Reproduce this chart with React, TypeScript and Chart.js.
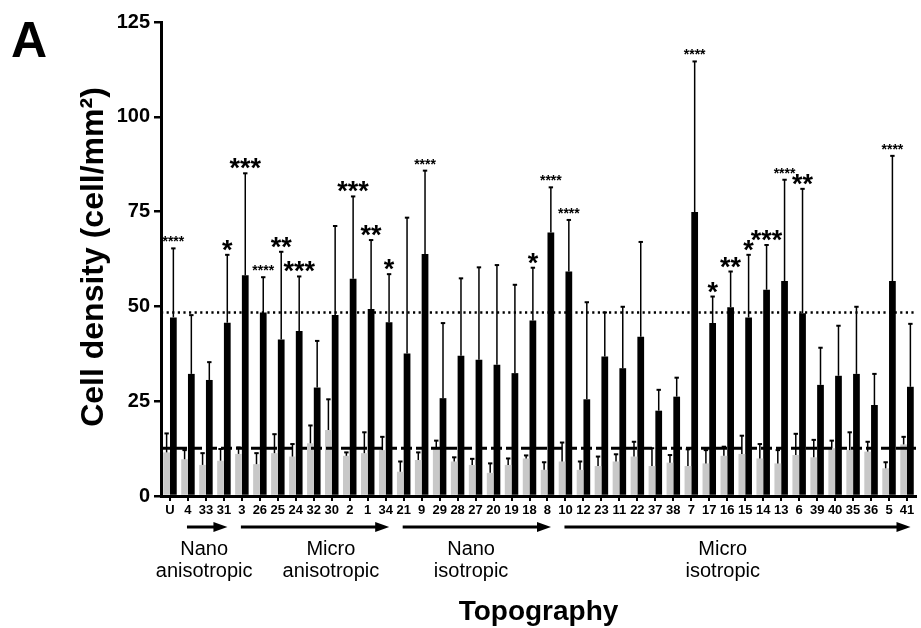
import React, { useEffect, useRef } from 'react';
import { Chart, registerables } from 'chart.js';

Chart.register(...registerables);

// ---- data ----
const categories = ['U', '4', '33', '31', '3', '26', '25', '24', '32', '30', '2', '1', '34', '21', '9', '29', '28', '27', '20', '19', '18', '8', '10', '12', '23', '11', '22', '37', '38', '7', '17', '16', '15', '14', '13', '6', '39', '40', '35', '36', '5', '41'];

// gray bars (control) mean and top of error bar
const controlMeans = [11.5, 9.7, 8.2, 9.3, 11.1, 8.4, 11.3, 10.4, 13.9, 17.4, 10.6, 11.3, 12.1, 6.4, 9.5, 12.6, 9.1, 8.2, 6.1, 8.2, 9.9, 6.9, 9.1, 6.9, 7.9, 9.1, 10.4, 7.9, 8.8, 7.9, 8.6, 10.6, 11.1, 9.9, 8.6, 10.8, 10.2, 12.6, 12.1, 11.7, 7.3, 13.6];
const controlErrTops = [16.5, 12.1, 11.3, 12.4, 12.8, 11.3, 16.3, 13.7, 18.6, 25.5, 11.5, 16.8, 15.6, 9.1, 11.5, 14.6, 10.2, 9.8, 8.6, 9.9, 10.7, 8.9, 14.1, 9.1, 10.4, 11.0, 14.3, 12.6, 10.8, 12.3, 12.1, 13.0, 15.9, 13.7, 12.1, 16.4, 14.8, 14.6, 16.8, 14.3, 8.9, 15.6];

// black bars (topography) mean and top of error bar
const topoMeans = [47.1, 32.2, 30.6, 45.7, 58.2, 48.4, 41.3, 43.5, 28.6, 47.7, 57.3, 49.3, 45.8, 37.6, 63.8, 25.8, 37.0, 35.9, 34.6, 32.4, 46.3, 69.5, 59.2, 25.5, 36.8, 33.7, 42.0, 22.5, 26.2, 74.9, 45.6, 49.8, 47.1, 54.4, 56.7, 48.2, 29.3, 31.7, 32.2, 24.0, 56.7, 28.8];
const topoErrTops = [65.3, 47.7, 35.3, 63.6, 85.1, 57.7, 64.4, 57.9, 40.9, 71.2, 79.0, 67.5, 58.5, 73.4, 85.8, 45.6, 57.4, 60.3, 60.9, 55.7, 60.2, 81.4, 72.8, 51.1, 48.4, 49.9, 67.0, 28.0, 31.2, 114.6, 52.6, 59.2, 63.6, 66.2, 83.4, 81.0, 39.1, 44.9, 49.9, 32.2, 89.7, 45.4];

const stars = ['****', '', '', '*', '***', '****', '**', '***', '', '', '***', '**', '*', '', '****', '', '', '', '', '', '*', '****', '****', '', '', '', '', '', '', '****', '*', '**', '*', '***', '****', '**', '', '', '', '', '****', ''];

const yTicks = [0, 25, 50, 75, 100, 125];
const meanLine = 48.4;     // dotted line
const controlLine = 12.6;  // dashed line

const groupNames = [['Nano', 'anisotropic'], ['Micro', 'anisotropic'], ['Nano', 'isotropic'], ['Micro', 'isotropic']];
const groupFirst = ['4', '3', '21', '10'];
const groupLast = ['31', '34', '8', '41'];
const groupLabelAt = [1.9, 8.95, 16.75, 30.75];

const FONT = '"Liberation Sans", Arial, Helvetica, sans-serif';
const NARROW = '"Liberation Sans Narrow", "Liberation Sans", Arial, sans-serif';

const overlayPlugin = {
  id: 'overlay',
  afterDatasetsDraw(chart: any) {
    const ctx = chart.ctx as CanvasRenderingContext2D;
    const { left, right } = chart.chartArea;
    const ys = chart.scales.y;
    ctx.save();
    ctx.strokeStyle = '#000';
    // dotted reference line
    ctx.lineWidth = 2.5;
    ctx.setLineDash([2.2, 3.4]);
    let yy = ys.getPixelForValue(meanLine);
    ctx.beginPath(); ctx.moveTo(left, yy); ctx.lineTo(right, yy); ctx.stroke();
    // dashed reference line
    ctx.lineWidth = 3;
    ctx.setLineDash([11, 4]);
    yy = ys.getPixelForValue(controlLine);
    ctx.beginPath(); ctx.moveTo(left, yy); ctx.lineTo(right, yy); ctx.stroke();
    ctx.setLineDash([]);

    // error bars
    [controlErrTops, topoErrTops].forEach((errs, di) => {
      const meta = chart.getDatasetMeta(di);
      meta.data.forEach((el: any, i: number) => {
        const yt = ys.getPixelForValue(errs[i]);
        ctx.lineWidth = 1.5;
        ctx.beginPath(); ctx.moveTo(el.x, el.y); ctx.lineTo(el.x, yt); ctx.stroke();
        ctx.lineWidth = 2;
        ctx.beginPath(); ctx.moveTo(el.x - 2.2, yt); ctx.lineTo(el.x + 2.2, yt); ctx.stroke();
      });
    });

    // significance stars
    const meta1 = chart.getDatasetMeta(1);
    ctx.fillStyle = '#000';
    ctx.textAlign = 'center';
    ctx.textBaseline = 'alphabetic';
    stars.forEach((s, i) => {
      if (!s) return;
      const el = meta1.data[i];
      const yt = ys.getPixelForValue(topoErrTops[i]);
      if (s.length === 4) {
        ctx.font = `bold 14px ${FONT}`;
        ctx.fillText(s, el.x, yt - 2);
      } else {
        ctx.font = `bold 27px ${FONT}`;
        ctx.fillText(s, el.x, yt + 4);
      }
    });
    ctx.restore();
  },
  afterDraw(chart: any) {
    const ctx = chart.ctx as CanvasRenderingContext2D;
    const xs = chart.scales.x;
    const { left, right } = chart.chartArea;
    ctx.save();
    ctx.fillStyle = '#000';
    ctx.strokeStyle = '#000';

    // panel letter
    ctx.font = `bold 50px ${FONT}`;
    ctx.textAlign = 'left';
    ctx.textBaseline = 'alphabetic';
    ctx.fillText('A', 11, 57);

    // y title
    ctx.save();
    ctx.translate(103, 257);
    ctx.rotate(-Math.PI / 2);
    ctx.font = `bold 32px ${FONT}`;
    ctx.textAlign = 'center';
    ctx.fillText('Cell density (cell/mm²)', 0, 0);
    ctx.restore();

    // x title
    ctx.font = `bold 28px ${FONT}`;
    ctx.textAlign = 'center';
    ctx.fillText('Topography', (left + right) / 2, 620);

    // group arrows and labels
    const ay = 527;
    groupNames.forEach((g, k) => {
      const x0 = xs.getPixelForValue(categories.indexOf(groupFirst[k])) - 1;
      const x1 = xs.getPixelForValue(categories.indexOf(groupLast[k])) + 3.5;
      ctx.lineWidth = 3;
      ctx.beginPath(); ctx.moveTo(x0, ay); ctx.lineTo(x1 - 10, ay); ctx.stroke();
      ctx.beginPath();
      ctx.moveTo(x1, ay);
      ctx.lineTo(x1 - 14, ay - 5);
      ctx.lineTo(x1 - 14, ay + 5);
      ctx.closePath();
      ctx.fill();
      const cx = xs.getPixelForValue(groupLabelAt[k]);
      ctx.font = `20px ${FONT}`;
      ctx.textAlign = 'center';
      ctx.fillText(g[0], cx, 555);
      ctx.fillText(g[1], cx, 577);
    });
    ctx.restore();
  },
};

export default function App() {
  const ref = useRef<HTMLCanvasElement | null>(null);
  useEffect(() => {
    if (!ref.current) return;
    const chart = new Chart(ref.current, {
      type: 'bar',
      data: {
        labels: categories,
        datasets: [
          {
            label: 'Control',
            data: controlMeans,
            backgroundColor: '#c8c8c8',
            borderWidth: 0,
            categoryPercentage: 0.75,
            barPercentage: 1.0,
          },
          {
            label: 'Topography',
            data: topoMeans,
            backgroundColor: '#000000',
            borderWidth: 0,
            categoryPercentage: 0.75,
            barPercentage: 1.0,
          },
        ],
      },
      options: {
        responsive: false,
        animation: false,
        devicePixelRatio: 1,
        layout: { padding: { left: 0, right: 5, top: 22, bottom: 0 } },
        plugins: {
          legend: { display: false },
          tooltip: { enabled: false },
          title: { display: false },
        },
        scales: {
          x: {
            offset: true,
            grid: {
              offset: false,
              drawOnChartArea: false,
              drawTicks: true,
              tickLength: 5,
              color: '#000',
              lineWidth: 2,
            },
            border: { display: true, color: '#000', width: 3 },
            ticks: {
              autoSkip: false,
              maxRotation: 0,
              minRotation: 0,
              padding: 2,
              color: '#000',
              font: { family: NARROW, size: 13, weight: 'bold' },
            },
            afterFit: (scale: any) => { scale.height = 132; },
          },
          y: {
            min: 0,
            max: 125,
            afterBuildTicks: (scale: any) => { scale.ticks = yTicks.map((v) => ({ value: v })); },
            grid: {
              drawOnChartArea: false,
              drawTicks: true,
              tickLength: 7,
              color: '#000',
              lineWidth: 2.5,
            },
            border: { display: true, color: '#000', width: 3 },
            ticks: {
              padding: 4,
              color: '#000',
              font: { family: FONT, size: 20, weight: 'bold' },
            },
            afterFit: (scale: any) => { scale.width = 161; },
          },
        },
      },
      plugins: [overlayPlugin],
    } as any);
    return () => chart.destroy();
  }, []);
  return (
    <div style={{ position: 'absolute', left: 0, top: 0, width: 921, height: 628, background: '#fff' }}>
      <canvas ref={ref} width={921} height={628} />
    </div>
  );
}
